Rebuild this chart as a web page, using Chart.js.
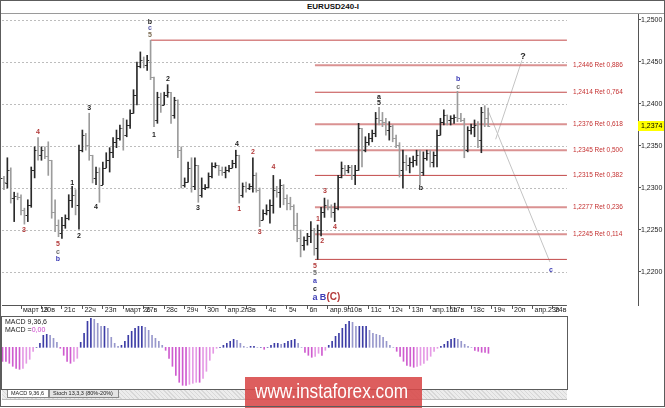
<!DOCTYPE html>
<html>
<head>
<meta charset="utf-8">
<script src="https://cdn.jsdelivr.net/npm/chart.js@4.4.1/dist/chart.umd.min.js"></script>
<style>
  html, body { margin: 0; padding: 0; background: #fff; }
  #wrap { position: relative; width: 665px; height: 408px; overflow: hidden; background: #fff; font-family: "Liberation Sans", Arial, sans-serif; }
  #frame { position: absolute; left: 0; top: 0; width: 665px; height: 407px; box-sizing: border-box; border: 1px solid #5c5c5c; pointer-events: none; }
  #titlebar { position: absolute; left: 0; top: 0; width: 665px; height: 13px; border-bottom: 1px solid #9a9a9a; }
  #titlebar span { position: absolute; left: 307px; top: 2px; font: bold 8px "Liberation Sans", Arial, sans-serif; color: #111; }
  #main { position: absolute; left: 0; top: 0; }
  #macdBox { position: absolute; left: 1px; top: 316px; width: 567px; height: 74px; box-sizing: border-box; border: 1px solid #5c5c5c; }
  #macd { position: absolute; left: 2px; top: 317px; }
  .mtxt { position: absolute; left: 5px; font: 7px "Liberation Sans", Arial, sans-serif; color: #222; line-height: 7px; }
  #tabs { position: absolute; left: 2px; top: 390px; width: 565px; height: 9px;
          background: repeating-linear-gradient(45deg, #d8d8d8 0 1px, #ececec 1px 3px); border-bottom: 1px solid #bcbcbc; }
  .tab { position: absolute; top: 0; height: 8px; box-sizing: border-box; border: 1px solid #8a8a8a; border-top: none;
         font: 5.5px "Liberation Sans", Arial, sans-serif; line-height: 7px; padding-left: 3px; color: #222;
         white-space: nowrap; overflow: hidden; }
  #wm { position: absolute; left: 245px; top: 377px; width: 177px; height: 31px; background: rgba(216, 72, 72, 0.88); overflow: hidden; }
  #wm span { position: absolute; left: 10px; top: 2px; font: 21px "Liberation Sans", Arial, sans-serif; color: #fff;
             transform: scaleX(0.82); transform-origin: 0 0; white-space: nowrap; }
</style>
</head>
<body>
<div id="wrap">
  <div id="titlebar"><span>EURUSD240-I</span></div>
  <canvas id="main" width="665" height="408"></canvas>
  <div id="macdBox"></div>
  <canvas id="macd" width="565" height="72"></canvas>
  <div class="mtxt" style="top:318px">MACD 9,36,6</div>
  <div class="mtxt" style="top:326px">MACD =<span style="color:#cc44cc">0,00</span></div>
  <div id="tabs">
    <div class="tab" style="left:5px;width:42px;background:#fff">MACD 9,36,6</div>
    <div class="tab" style="left:47px;width:70px;background:#e4e4e4">Stoch 13,3,3 (80%-20%)</div>
  </div>
  <div id="wm"><span>www.instaforex.com</span></div>
  <div id="frame"></div>
</div>
<script>
// EURUSD H4, one entry per 4-hour bar (index 0 = Fri 16 March 00:00)
const highs = [
  1.2321,1.2314,1.2336,1.2324,1.2295,1.2294,1.2292,1.2276,1.2286,1.2325,
  1.2349,1.2360,1.2349,1.2349,1.2355,1.2333,1.2286,1.2262,1.2265,1.2268,
  1.2292,1.2302,1.2298,1.2351,1.2369,1.2365,1.2389,1.2339,1.2325,1.2324,
  1.2331,1.2342,1.2348,1.2360,1.2369,1.2375,1.2383,1.2381,1.2393,1.2417,
  1.2450,1.2462,1.2456,1.2458,1.2476,1.2432,1.2414,1.2413,1.2414,1.2423,
  1.2414,1.2408,1.2405,1.2349,1.2312,1.2331,1.2336,1.2336,1.2327,1.2312,
  1.2304,1.2318,1.2330,1.2330,1.2327,1.2325,1.2325,1.2327,1.2333,1.2345,
  1.2339,1.2306,1.2307,1.2305,1.2336,1.2318,1.2300,1.2274,1.2280,1.2286,
  1.2315,1.2302,1.2310,1.2304,1.2292,1.2289,1.2280,1.2270,1.2250,1.2242,
  1.2246,1.2260,1.2252,1.2256,1.2277,1.2288,1.2286,1.2280,1.2282,1.2315,
  1.2331,1.2327,1.2327,1.2327,1.2327,1.2377,1.2371,1.2361,1.2365,1.2369,
  1.2390,1.2396,1.2390,1.2383,1.2379,1.2375,1.2363,1.2354,1.2345,1.2339,
  1.2336,1.2338,1.2345,1.2345,1.2343,1.2345,1.2345,1.2343,1.2369,1.2383,
  1.2393,1.2387,1.2386,1.2387,1.2415,1.2389,1.2383,1.2373,1.2376,1.2381,
  1.2379,1.2396,1.2398,1.2395
];
const lows = [
  1.2300,1.2298,1.2300,1.2282,1.2260,1.2286,1.2268,1.2257,1.2260,1.2277,
  1.2312,1.2333,1.2333,1.2335,1.2315,1.2264,1.2248,1.2242,1.2240,1.2252,
  1.2262,1.2277,1.2268,1.2251,1.2343,1.2345,1.2333,1.2306,1.2304,1.2283,
  1.2304,1.2324,1.2319,1.2336,1.2348,1.2357,1.2345,1.2361,1.2371,1.2389,
  1.2399,1.2443,1.2443,1.2440,1.2429,1.2373,1.2377,1.2390,1.2399,1.2408,
  1.2377,1.2383,1.2336,1.2300,1.2301,1.2307,1.2295,1.2298,1.2283,1.2289,
  1.2298,1.2300,1.2312,1.2324,1.2315,1.2315,1.2312,1.2319,1.2324,1.2324,
  1.2282,1.2289,1.2295,1.2298,1.2295,1.2295,1.2254,1.2262,1.2268,1.2258,
  1.2270,1.2289,1.2277,1.2280,1.2274,1.2274,1.2250,1.2236,1.2218,1.2226,
  1.2232,1.2235,1.2220,1.2215,1.2243,1.2265,1.2274,1.2265,1.2260,1.2274,
  1.2312,1.2315,1.2318,1.2310,1.2304,1.2321,1.2325,1.2343,1.2351,1.2355,
  1.2361,1.2375,1.2373,1.2363,1.2357,1.2355,1.2348,1.2313,1.2300,1.2321,
  1.2318,1.2325,1.2327,1.2304,1.2315,1.2333,1.2325,1.2325,1.2325,1.2363,
  1.2375,1.2375,1.2375,1.2377,1.2379,1.2379,1.2336,1.2343,1.2364,1.2361,
  1.2348,1.2342,1.2373,1.2373
];
const opens = [
  1.2304,1.2312,1.2306,1.2321,1.2288,1.2290,1.2289,1.2274,1.2268,1.2280,
  1.2321,1.2345,1.2339,1.2345,1.2338,1.2333,1.2271,1.2256,1.2246,1.2256,
  1.2264,1.2286,1.2292,1.2280,1.2345,1.2363,1.2351,1.2339,1.2312,1.2319,
  1.2304,1.2324,1.2333,1.2343,1.2355,1.2360,1.2371,1.2363,1.2375,1.2389,
  1.2411,1.2445,1.2452,1.2446,1.2450,1.2432,1.2381,1.2408,1.2399,1.2411,
  1.2414,1.2387,1.2405,1.2345,1.2304,1.2307,1.2324,1.2302,1.2327,1.2292,
  1.2300,1.2301,1.2314,1.2326,1.2327,1.2321,1.2319,1.2321,1.2324,1.2330,
  1.2339,1.2292,1.2302,1.2300,1.2302,1.2315,1.2298,1.2262,1.2270,1.2274,
  1.2280,1.2298,1.2295,1.2304,1.2288,1.2282,1.2279,1.2256,1.2240,1.2232,
  1.2238,1.2243,1.2250,1.2229,1.2250,1.2271,1.2280,1.2277,1.2271,1.2276,
  1.2313,1.2324,1.2321,1.2325,1.2315,1.2321,1.2371,1.2345,1.2355,1.2360,
  1.2365,1.2383,1.2381,1.2379,1.2369,1.2374,1.2360,1.2351,1.2321,1.2331,
  1.2327,1.2331,1.2333,1.2339,1.2319,1.2336,1.2342,1.2331,1.2339,1.2363,
  1.2379,1.2387,1.2381,1.2383,1.2385,1.2383,1.2381,1.2345,1.2369,1.2373,
  1.2375,1.2357,1.2390,1.2383
];
const closes = [
  1.2312,1.2307,1.2321,1.2288,1.2290,1.2289,1.2274,1.2268,1.2280,1.2321,
  1.2345,1.2339,1.2345,1.2338,1.2333,1.2271,1.2256,1.2246,1.2256,1.2264,
  1.2286,1.2292,1.2280,1.2345,1.2363,1.2351,1.2339,1.2312,1.2319,1.2304,
  1.2324,1.2333,1.2343,1.2355,1.2360,1.2371,1.2363,1.2375,1.2389,1.2411,
  1.2445,1.2452,1.2446,1.2452,1.2432,1.2381,1.2408,1.2399,1.2411,1.2414,
  1.2387,1.2405,1.2345,1.2304,1.2307,1.2324,1.2302,1.2327,1.2292,1.2300,
  1.2301,1.2314,1.2326,1.2327,1.2321,1.2319,1.2321,1.2324,1.2330,1.2339,
  1.2292,1.2302,1.2300,1.2302,1.2315,1.2298,1.2262,1.2270,1.2274,1.2280,
  1.2298,1.2295,1.2304,1.2288,1.2282,1.2279,1.2256,1.2240,1.2232,1.2238,
  1.2243,1.2250,1.2229,1.2250,1.2271,1.2280,1.2277,1.2271,1.2276,1.2313,
  1.2324,1.2321,1.2325,1.2315,1.2321,1.2371,1.2345,1.2355,1.2360,1.2365,
  1.2383,1.2381,1.2379,1.2369,1.2374,1.2360,1.2351,1.2321,1.2331,1.2327,
  1.2331,1.2333,1.2339,1.2319,1.2336,1.2342,1.2331,1.2339,1.2363,1.2379,
  1.2387,1.2381,1.2383,1.2385,1.2383,1.2381,1.2345,1.2369,1.2373,1.2375,
  1.2357,1.2390,1.2383,1.2374
];

// MACD 9,36,6 histogram, relative bar heights, one per price bar
const macdHist = [
  -14,-14,-16,-19,-21,-22,-21,-16,-12,-4,
  0,4,12,13,12,9,5,-1,-8,-14,
  -16,-14,-11,5,14,26,29,28,24,21,
  21,19,10,4,1,2,6,12,16,19,
  21,21,20,17,12,9,6,2,-3,-11,
  -19,-28,-35,-38,-38,-37,-36,-35,-35,-31,
  -24,-13,-6,-1,0,2,4,6,8,7,
  4,1,0,1,1,0,0,-2,0,2,
  4,4,3,4,6,7,8,4,0,-5,
  -8,-10,-9,-6,-8,-3,2,6,11,14,
  19,23,26,25,21,21,21,21,17,14,
  13,12,10,6,2,0,-4,-9,-14,-18,
  -19,-20,-19,-18,-16,-13,-9,-4,-1,1,
  3,6,8,9,8,6,3,1,0,-3,
  -4,-5,-5,-6
];

// time axis: first bar of each trading day
const dayIdx = [6,12,18,24,30,36,42,48,54,60,66,72,78,84,90,96,102,108,114,120,126,132,138,144,150,156,162];
const dayLabels = ['март 19','20в','21с','22ч','23п','март 26','27в','28с','29ч','30п','апр.2п','3в','4с','5ч','6п',
                   'апр.9п','10в','11с','12ч','13п','апр.16п','17в','18с','19ч','20п','апр.23п','24в'];
const priceTicks = [1.2200,1.2250,1.2300,1.2350,1.2400,1.2450,1.2500];

// Fibonacci retracement of the 1.2215 - 1.2476 swing
const fibLevels = [1.2476,1.2446,1.2414,1.2376,1.2345,1.2315,1.2277,1.2245,1.2215];
const fibRatios = ['','0,886','0,764','0,618','0,500','0,382','0,236','0,114',''];
const fibFrom   = [44.1,92.2,92.2,92.2,92.2,92.2,92.2,92.2,92.2];
const fibThick  = [false,true,false,true,true,false,true,true,false];
const fibTo = 166.1;

// forecast paths
const projX = [[142.9,161.1],[145.2,152.9]];
const projY = [[1.2393,1.2212],[1.2358,1.2452]];

// wave marks
const RED = '#b33a3a', BLU = '#3b3bb5', GRY = '#6e6e6e', BLK = '#222';
const waveText  = ['b','c','5','2','1','3','4','3','5','c','b','1','2','4','4','3','1','2','3','4',
                   '1','2','3','4','5','5','a','c','a','5','b','c','b','c'];
const waveX     = [43.8,43.8,43.8,49.1,45,26,11,6.9,16.8,16.8,16.8,21,23,28,69.3,57.9,70,74,76,80,
                   93.1,94.3,95.1,98.1,92.2,92.2,92.2,92.2,111,111,134.2,134.2,123.3,161.4];
const waveY     = [1.2498,1.2490,1.2482,1.2430,1.2363,1.2395,1.2367,1.2250,1.2233,1.2224,1.2215,1.2306,1.2243,1.2277,1.2352,1.2276,1.2275,1.2343,1.2248,1.2325,
                   1.2263,1.2237,1.2296,1.2254,1.2207,1.2199,1.2189,1.2180,1.2408,1.2401,1.2430,1.2420,1.2300,1.2202];
const waveColor = [BLK,'#5b5ba8','#7a6a50',BLK,BLK,BLK,RED,RED,RED,GRY,BLU,BLK,BLK,BLK,BLK,BLK,RED,RED,RED,RED,
                   RED,RED,RED,RED,RED,GRY,BLU,BLK,BLK,BLK,BLU,GRY,BLK,BLU];

const X_MIN = 0.428, X_MAX = 186.94, X_MACD_MAX = 166.12;
const Y_MIN = 1.216071, Y_MAX = 1.250714;

const barColors = closes.map((c, k) => c >= opens[k] ? '#2a2a2a' : '#9c9c9c');

const fibSets = fibLevels.map((lv, k) => ({
  type: 'line',
  data: [{x: fibFrom[k], y: lv}, {x: fibTo, y: lv}],
  borderColor: fibThick[k] ? 'rgba(205,110,110,0.75)' : '#c24848',
  borderWidth: fibThick[k] ? 2 : 1,
  pointRadius: 0,
  order: 3
}));
const projSets = projX.map((px, k) => ({
  type: 'line',
  data: [{x: px[0], y: projY[k][0]}, {x: px[1], y: projY[k][1]}],
  borderColor: '#c4c4c4',
  borderWidth: 1,
  pointRadius: 0,
  order: 4
}));

// open / close ticks of the OHLC bars + grid, labels
const ohlcPlugin = {
  id: 'ohlc',
  beforeDatasetsDraw(chart) {
    const {ctx, chartArea: a, scales: {x, y}} = chart;
    const right = x.getPixelForValue(fibTo);
    ctx.save();
    ctx.strokeStyle = '#bdbdbd';
    ctx.lineWidth = 1;
    ctx.setLineDash([2, 2]);
    priceTicks.forEach(v => {
      const py = Math.round(y.getPixelForValue(v)) + 0.5;
      ctx.beginPath(); ctx.moveTo(a.left, py); ctx.lineTo(right, py); ctx.stroke();
    });
    ctx.setLineDash([]);
    ctx.strokeStyle = '#555';
    ctx.beginPath(); ctx.moveTo(a.left, a.bottom + 0.5); ctx.lineTo(right, a.bottom + 0.5); ctx.stroke();
    ctx.restore();
  },
  afterDatasetsDraw(chart) {
    const {ctx, scales: {x, y}} = chart;
    ctx.save();
    ctx.lineWidth = 1;
    opens.forEach((o, k) => {
      const px = x.getPixelForValue(k);
      const po = Math.round(y.getPixelForValue(o)) + 0.5;
      const pc = Math.round(y.getPixelForValue(closes[k])) + 0.5;
      ctx.strokeStyle = barColors[k];
      ctx.beginPath();
      ctx.moveTo(px - 2, po); ctx.lineTo(px, po);
      ctx.moveTo(px, pc); ctx.lineTo(px + 2, pc);
      ctx.stroke();
    });

    // fib labels
    ctx.font = '6.5px "Liberation Sans", Arial, sans-serif';
    ctx.fillStyle = '#c43030';
    ctx.textAlign = 'left';
    ctx.textBaseline = 'middle';
    fibLevels.forEach((lv, k) => {
      if (!fibRatios[k]) return;
      ctx.fillText(lv.toFixed(4).replace('.', ',') + ' Ret ' + fibRatios[k], x.getPixelForValue(fibTo) + 6, y.getPixelForValue(lv));
    });

    // wave labels
    ctx.textAlign = 'center';
    ctx.font = 'bold 7px "Liberation Sans", Arial, sans-serif';
    waveText.forEach((t, k) => {
      ctx.fillStyle = waveColor[k];
      ctx.fillText(t, x.getPixelForValue(waveX[k]), y.getPixelForValue(waveY[k]));
    });
    // a B (C)
    const cy = y.getPixelForValue(1.2170);
    ctx.font = 'bold 9px "Liberation Sans", Arial, sans-serif';
    ctx.fillStyle = BLU;
    ctx.fillText('a', x.getPixelForValue(92.2), cy);
    ctx.fillText('B', x.getPixelForValue(94.6), cy);
    ctx.fillStyle = RED;
    ctx.font = 'bold 10px "Liberation Sans", Arial, sans-serif';
    ctx.fillText('(C)', x.getPixelForValue(97.6), cy);
    ctx.fillStyle = BLK;
    ctx.font = 'bold 9px "Liberation Sans", Arial, sans-serif';
    ctx.fillText('?', x.getPixelForValue(153.2), y.getPixelForValue(1.2456));
    ctx.restore();
  },
  afterDraw(chart) {
    const {ctx, chartArea: a, scales: {y}} = chart;
    const last = closes[closes.length - 1];
    const py = y.getPixelForValue(last);
    ctx.save();
    ctx.fillStyle = '#ffff00';
    ctx.fillRect(a.right, Math.round(py) - 5, 26, 10);
    ctx.fillStyle = '#000';
    ctx.font = '7px "Liberation Sans", Arial, sans-serif';
    ctx.textAlign = 'left';
    ctx.textBaseline = 'middle';
    ctx.fillText(last.toFixed(4).replace('.', ','), a.right + 3, Math.round(py) + 0.5);
    ctx.restore();
  }
};

new Chart(document.getElementById('main'), {
  type: 'bar',
  data: {
    datasets: [{
      type: 'bar',
      data: highs.map((h, k) => ({x: k, y: [lows[k], h]})),
      backgroundColor: barColors,
      barThickness: 1,
      grouped: false,
      order: 1
    }, ...fibSets, ...projSets]
  },
  options: {
    responsive: false,
    animation: false,
    layout: {padding: {left: 2, top: 14, right: 0, bottom: 0}},
    plugins: {legend: {display: false}, tooltip: {enabled: false}},
    scales: {
      x: {
        type: 'linear', min: X_MIN, max: X_MAX, offset: false,
        border: {display: false},
        grid: {drawOnChartArea: false, drawTicks: true, tickLength: 4, color: '#555', offset: false},
        afterBuildTicks: s => { s.ticks = dayIdx.map(v => ({value: v})); },
        afterFit: s => { s.height = 103; },
        ticks: {
          autoSkip: false, maxRotation: 0, minRotation: 0, align: 'start', padding: -3, labelOffset: 2,
          color: '#222', font: {size: 7, family: '"Liberation Sans", Arial, sans-serif'},
          callback: (v, i) => dayLabels[i]
        }
      },
      y: {
        position: 'right', min: Y_MIN, max: Y_MAX,
        border: {color: '#555'},
        grid: {drawOnChartArea: false, tickLength: 3, color: '#555'},
        afterBuildTicks: s => { s.ticks = priceTicks.map(v => ({value: v})); },
        afterFit: s => { s.width = 27; },
        ticks: {
          padding: 0, color: '#222', font: {size: 7, family: '"Liberation Sans", Arial, sans-serif'},
          callback: v => v.toFixed(4).replace('.', ',')
        }
      }
    }
  },
  plugins: [ohlcPlugin]
});

// MACD panel
const macdColors = macdHist.map((v, k) => {
  const prev = k ? macdHist[k - 1] : v;
  if (v >= 0) return v >= prev ? '#3d3da6' : '#9898cc';
  return v <= prev ? '#cf5ccf' : '#e59ae5';
});

new Chart(document.getElementById('macd'), {
  type: 'bar',
  data: {
    datasets: [{
      data: macdHist.map((v, k) => ({x: k, y: v})),
      backgroundColor: macdColors,
      barThickness: 1
    }]
  },
  options: {
    responsive: false,
    animation: false,
    layout: {padding: 0},
    plugins: {legend: {display: false}, tooltip: {enabled: false}},
    scales: {
      x: {type: 'linear', min: X_MIN - 2 / 3.41, max: X_MACD_MAX, offset: false, display: false},
      y: {min: -41.7, max: 30.3, display: false}
    }
  }
});
</script>
</body>
</html>
